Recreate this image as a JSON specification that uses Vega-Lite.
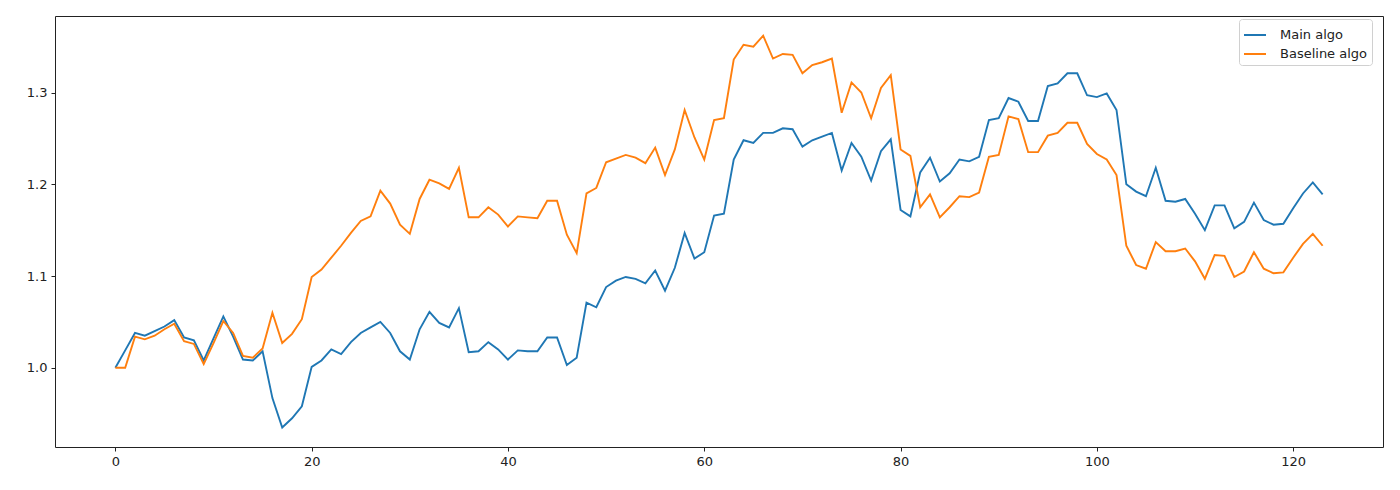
{
  "$schema": "https://vega.github.io/schema/vega-lite/v6.json",
  "width": 1328,
  "height": 431,
  "autosize": {"type": "none"},
  "padding": {"left": 55, "top": 16, "right": 17, "bottom": 43},
  "background": "white",
  "config": {
    "view": {"stroke": "#222", "strokeWidth": 1},
    "axis": {"grid": false, "domain": false, "ticks": true, "tickColor": "#222", "tickSize": 4, "tickWidth": 1, "labelFont": "DejaVu Sans", "labelFontSize": 13, "labelColor": "#222", "labelPadding": 4, "title": null}
  },
  "data": {"values": [
{"x":0,"main":1.000,"base":1.000},{"x":1,"main":1.019,"base":1.000},{"x":2,"main":1.038,"base":1.034},{"x":3,"main":1.035,"base":1.031},{"x":4,"main":1.040,"base":1.035},{"x":5,"main":1.045,"base":1.042},{"x":6,"main":1.052,"base":1.048},{"x":7,"main":1.033,"base":1.029},{"x":8,"main":1.030,"base":1.026},{"x":9,"main":1.008,"base":1.004},
{"x":10,"main":1.032,"base":1.027},{"x":11,"main":1.056,"base":1.051},{"x":12,"main":1.034,"base":1.038},{"x":13,"main":1.009,"base":1.013},{"x":14,"main":1.008,"base":1.011},{"x":15,"main":1.018,"base":1.021},{"x":16,"main":0.967,"base":1.060},{"x":17,"main":0.935,"base":1.027},{"x":18,"main":0.945,"base":1.037},{"x":19,"main":0.958,"base":1.053},
{"x":20,"main":1.001,"base":1.099},{"x":21,"main":1.008,"base":1.107},{"x":22,"main":1.020,"base":1.120},{"x":23,"main":1.015,"base":1.133},{"x":24,"main":1.028,"base":1.147},{"x":25,"main":1.038,"base":1.160},{"x":26,"main":1.044,"base":1.165},{"x":27,"main":1.050,"base":1.193},{"x":28,"main":1.038,"base":1.179},{"x":29,"main":1.018,"base":1.156},
{"x":30,"main":1.009,"base":1.146},{"x":31,"main":1.042,"base":1.184},{"x":32,"main":1.061,"base":1.205},{"x":33,"main":1.049,"base":1.201},{"x":34,"main":1.044,"base":1.195},{"x":35,"main":1.065,"base":1.218},{"x":36,"main":1.017,"base":1.164},{"x":37,"main":1.018,"base":1.164},{"x":38,"main":1.028,"base":1.175},{"x":39,"main":1.020,"base":1.167},
{"x":40,"main":1.009,"base":1.154},{"x":41,"main":1.019,"base":1.165},{"x":42,"main":1.018,"base":1.164},{"x":43,"main":1.018,"base":1.163},{"x":44,"main":1.033,"base":1.182},{"x":45,"main":1.033,"base":1.182},{"x":46,"main":1.003,"base":1.145},{"x":47,"main":1.011,"base":1.125},{"x":48,"main":1.071,"base":1.190},{"x":49,"main":1.066,"base":1.196},
{"x":50,"main":1.088,"base":1.224},{"x":51,"main":1.095,"base":1.228},{"x":52,"main":1.099,"base":1.232},{"x":53,"main":1.097,"base":1.229},{"x":54,"main":1.092,"base":1.223},{"x":55,"main":1.106,"base":1.240},{"x":56,"main":1.084,"base":1.210},{"x":57,"main":1.109,"base":1.238},{"x":58,"main":1.147,"base":1.281},{"x":59,"main":1.119,"base":1.251},
{"x":60,"main":1.126,"base":1.227},{"x":61,"main":1.166,"base":1.270},{"x":62,"main":1.168,"base":1.272},{"x":63,"main":1.227,"base":1.336},{"x":64,"main":1.248,"base":1.352},{"x":65,"main":1.245,"base":1.350},{"x":66,"main":1.256,"base":1.362},{"x":67,"main":1.256,"base":1.337},{"x":68,"main":1.261,"base":1.342},{"x":69,"main":1.260,"base":1.341},
{"x":70,"main":1.241,"base":1.321},{"x":71,"main":1.248,"base":1.330},{"x":72,"main":1.252,"base":1.333},{"x":73,"main":1.256,"base":1.337},{"x":74,"main":1.215,"base":1.278},{"x":75,"main":1.245,"base":1.311},{"x":76,"main":1.230,"base":1.300},{"x":77,"main":1.204,"base":1.272},{"x":78,"main":1.236,"base":1.305},{"x":79,"main":1.249,"base":1.319},
{"x":80,"main":1.172,"base":1.238},{"x":81,"main":1.165,"base":1.231},{"x":82,"main":1.213,"base":1.175},{"x":83,"main":1.229,"base":1.189},{"x":84,"main":1.203,"base":1.164},{"x":85,"main":1.212,"base":1.175},{"x":86,"main":1.227,"base":1.187},{"x":87,"main":1.225,"base":1.186},{"x":88,"main":1.230,"base":1.191},{"x":89,"main":1.270,"base":1.230},
{"x":90,"main":1.272,"base":1.232},{"x":91,"main":1.294,"base":1.274},{"x":92,"main":1.290,"base":1.271},{"x":93,"main":1.269,"base":1.235},{"x":94,"main":1.269,"base":1.235},{"x":95,"main":1.307,"base":1.253},{"x":96,"main":1.310,"base":1.256},{"x":97,"main":1.321,"base":1.267},{"x":98,"main":1.321,"base":1.267},{"x":99,"main":1.297,"base":1.244},
{"x":100,"main":1.295,"base":1.233},{"x":101,"main":1.299,"base":1.227},{"x":102,"main":1.281,"base":1.210},{"x":103,"main":1.200,"base":1.133},{"x":104,"main":1.192,"base":1.112},{"x":105,"main":1.187,"base":1.108},{"x":106,"main":1.218,"base":1.137},{"x":107,"main":1.182,"base":1.127},{"x":108,"main":1.181,"base":1.127},{"x":109,"main":1.184,"base":1.130},
{"x":110,"main":1.168,"base":1.116},{"x":111,"main":1.150,"base":1.097},{"x":112,"main":1.177,"base":1.123},{"x":113,"main":1.177,"base":1.122},{"x":114,"main":1.152,"base":1.099},{"x":115,"main":1.159,"base":1.105},{"x":116,"main":1.180,"base":1.126},{"x":117,"main":1.161,"base":1.108},{"x":118,"main":1.156,"base":1.103},{"x":119,"main":1.157,"base":1.104},
{"x":120,"main":1.174,"base":1.120},{"x":121,"main":1.190,"base":1.135},{"x":122,"main":1.202,"base":1.146},{"x":123,"main":1.189,"base":1.133}
  ]},
  "transform": [{"fold": ["main", "base"], "as": ["series", "y"]}],
  "mark": {"type": "line", "strokeWidth": 1.9, "clip": true},
  "encoding": {
    "x": {"field": "x", "type": "quantitative", "scale": {"domain": [-6.15, 129.15], "nice": false, "zero": false}, "axis": {"values": [0, 20, 40, 60, 80, 100, 120]}},
    "y": {"field": "y", "type": "quantitative", "scale": {"domain": [0.9137, 1.3834], "nice": false, "zero": false}, "axis": {"values": [1.0, 1.1, 1.2, 1.3], "format": ".1f"}},
    "color": {"field": "series", "type": "nominal", "sort": ["main", "base"],
      "scale": {"domain": ["main", "base"], "range": ["#1f77b4", "#ff7f0e"]},
      "legend": {"title": null, "orient": "none", "legendX": 1184, "legendY": 3, "labelExpr": "datum.value == 'main' ? 'Main algo' : 'Baseline algo'", "symbolType": "stroke", "symbolSize": 484, "symbolStrokeWidth": 2, "labelFont": "DejaVu Sans", "labelFontSize": 13, "labelColor": "#222", "fillColor": "white", "strokeColor": "#d0d0d0", "cornerRadius": 3, "padding": 4, "rowPadding": -2, "labelOffset": 13}}
  }
}
